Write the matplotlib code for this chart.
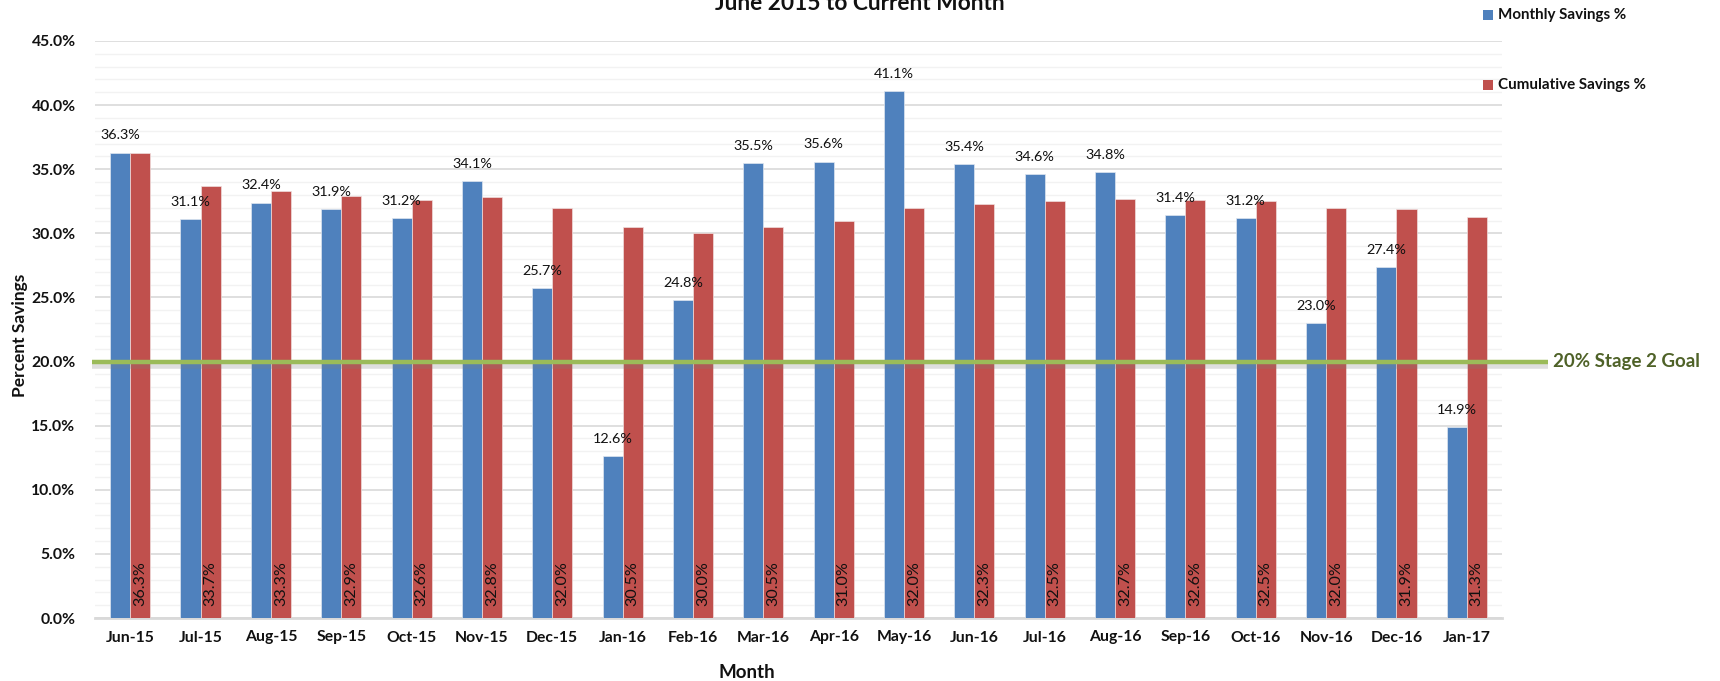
import matplotlib
matplotlib.use("Agg")
import matplotlib.pyplot as plt
import numpy as np
from matplotlib.patches import Rectangle
from matplotlib.ticker import MultipleLocator, FuncFormatter
import matplotlib.transforms as mtransforms

plt.rcParams['font.family'] = ['Lato', 'DejaVu Sans']

months = ["Jun-15", "Jul-15", "Aug-15", "Sep-15", "Oct-15", "Nov-15", "Dec-15",
          "Jan-16", "Feb-16", "Mar-16", "Apr-16", "May-16", "Jun-16", "Jul-16",
          "Aug-16", "Sep-16", "Oct-16", "Nov-16", "Dec-16", "Jan-17"]
monthly = [36.3, 31.1, 32.4, 31.9, 31.2, 34.1, 25.7, 12.6, 24.8, 35.5,
           35.6, 41.1, 35.4, 34.6, 34.8, 31.4, 31.2, 23.0, 27.4, 14.9]
cumulative = [36.3, 33.7, 33.3, 32.9, 32.6, 32.8, 32.0, 30.5, 30.0, 30.5,
              31.0, 32.0, 32.3, 32.5, 32.7, 32.6, 32.5, 32.0, 31.9, 31.3]
goal = 20.0

BLUE = "#4F81BD"
RED = "#C0504D"
GREEN = "#9BBB59"
OLIVE = "#4F6228"

W, H = 1720, 681
fig = plt.figure(figsize=(W / 100, H / 100), dpi=100)
ax = fig.add_axes([95 / W, 1 - 618 / H, (1502 - 95) / W, (618 - 41) / H])

x = np.arange(len(months))
bw = 0.285
ax.bar(x - bw / 2, monthly, bw, color=BLUE, edgecolor="#dfe6f0", linewidth=0.5, zorder=3)
ax.bar(x + bw / 2, cumulative, bw, color=RED, edgecolor="#f0dede", linewidth=0.5, zorder=3)

ax.set_xlim(-0.5, len(months) - 0.5)
ax.set_ylim(0, 45)
ax.yaxis.set_major_locator(MultipleLocator(5))
ax.yaxis.set_minor_locator(MultipleLocator(1))
ax.yaxis.set_major_formatter(FuncFormatter(lambda v, p: f"{v:.1f}%"))
ax.grid(axis="y", which="major", color="#D9D9D9", linewidth=1.2, zorder=0)
ax.grid(axis="y", which="minor", color="#F2F2F2", linewidth=1.0, zorder=0)
ax.set_axisbelow(True)
for s in ["left", "right", "top"]:
    ax.spines[s].set_visible(False)
ax.spines["bottom"].set_color("#D9D9D9")
ax.spines["bottom"].set_linewidth(2)
ax.tick_params(axis="both", which="both", length=0)
ax.tick_params(axis="y", pad=14, labelsize=11.3)
ax.tick_params(axis="x", pad=9, labelsize=11.3)
ax.set_xticks(x)
ax.set_xticklabels(months, fontweight="bold", color="#111111")
for t in ax.get_yticklabels():
    t.set_fontweight("bold")
    t.set_color("#111111")

# value labels
for i, v in enumerate(monthly):
    ax.annotate(f"{v:.1f}%", (x[i] - bw / 2, v), xytext=(0, 8), textcoords="offset points",
                ha="center", va="bottom", fontsize=10.4, color="#111111", zorder=5)
for i, v in enumerate(cumulative):
    ax.annotate(f"{v:.1f}%", (x[i] + bw / 2, 0), xytext=(0, 9), textcoords="offset points",
                ha="center", va="bottom", rotation=90, fontsize=11.6, color="#111111", zorder=5)

# goal line with shadow
trans = mtransforms.blended_transform_factory(ax.transAxes, ax.transData)
x0 = (92 - 95) / (1502 - 95)
x1 = (1548 - 95) / (1502 - 95)
shadow = mtransforms.offset_copy(trans, fig=fig, x=0, y=-3, units="points")
ax.plot([x0, x1], [goal, goal], transform=shadow, color="#7f7f7f", linewidth=4,
        alpha=0.25, clip_on=False, zorder=6, solid_capstyle="butt")
ax.plot([x0, x1], [goal, goal], transform=trans, color=GREEN, linewidth=3.2,
        clip_on=False, zorder=7, solid_capstyle="butt")
ax.text(1553 / W, goal, "20% Stage 2 Goal",
        transform=mtransforms.blended_transform_factory(fig.transFigure, ax.transData),
        ha="left", va="center", fontsize=13.5, fontweight="bold", color=OLIVE)

# titles / labels
fig.text(860 / W, 1 - 10 / H, "June 2015 to Current Month", ha="center", va="baseline",
         fontsize=16.4, fontweight="bold", color="#111111")
fig.text(747 / W, 1 - 672 / H, "Month", ha="center", va="center", fontsize=13.5,
         fontweight="bold", color="#111111")
fig.text(20 / W, 1 - 335 / H, "Percent Savings", ha="center", va="center", rotation=90,
         fontsize=12.5, fontweight="bold", color="#111111")

# legend
for yc, col, lab in [(15, BLUE, "Monthly Savings %"), (85, RED, "Cumulative Savings %")]:
    fig.patches.append(Rectangle((1483 / W, 1 - (yc + 5) / H), 10 / W, 10 / H,
                                 transform=fig.transFigure, facecolor=col, edgecolor="none"))
    fig.text(1498 / W, 1 - yc / H, lab, ha="left", va="center", fontsize=10.9, fontweight="bold",
             color="#111111")

fig.savefig("out.png", dpi=100)
